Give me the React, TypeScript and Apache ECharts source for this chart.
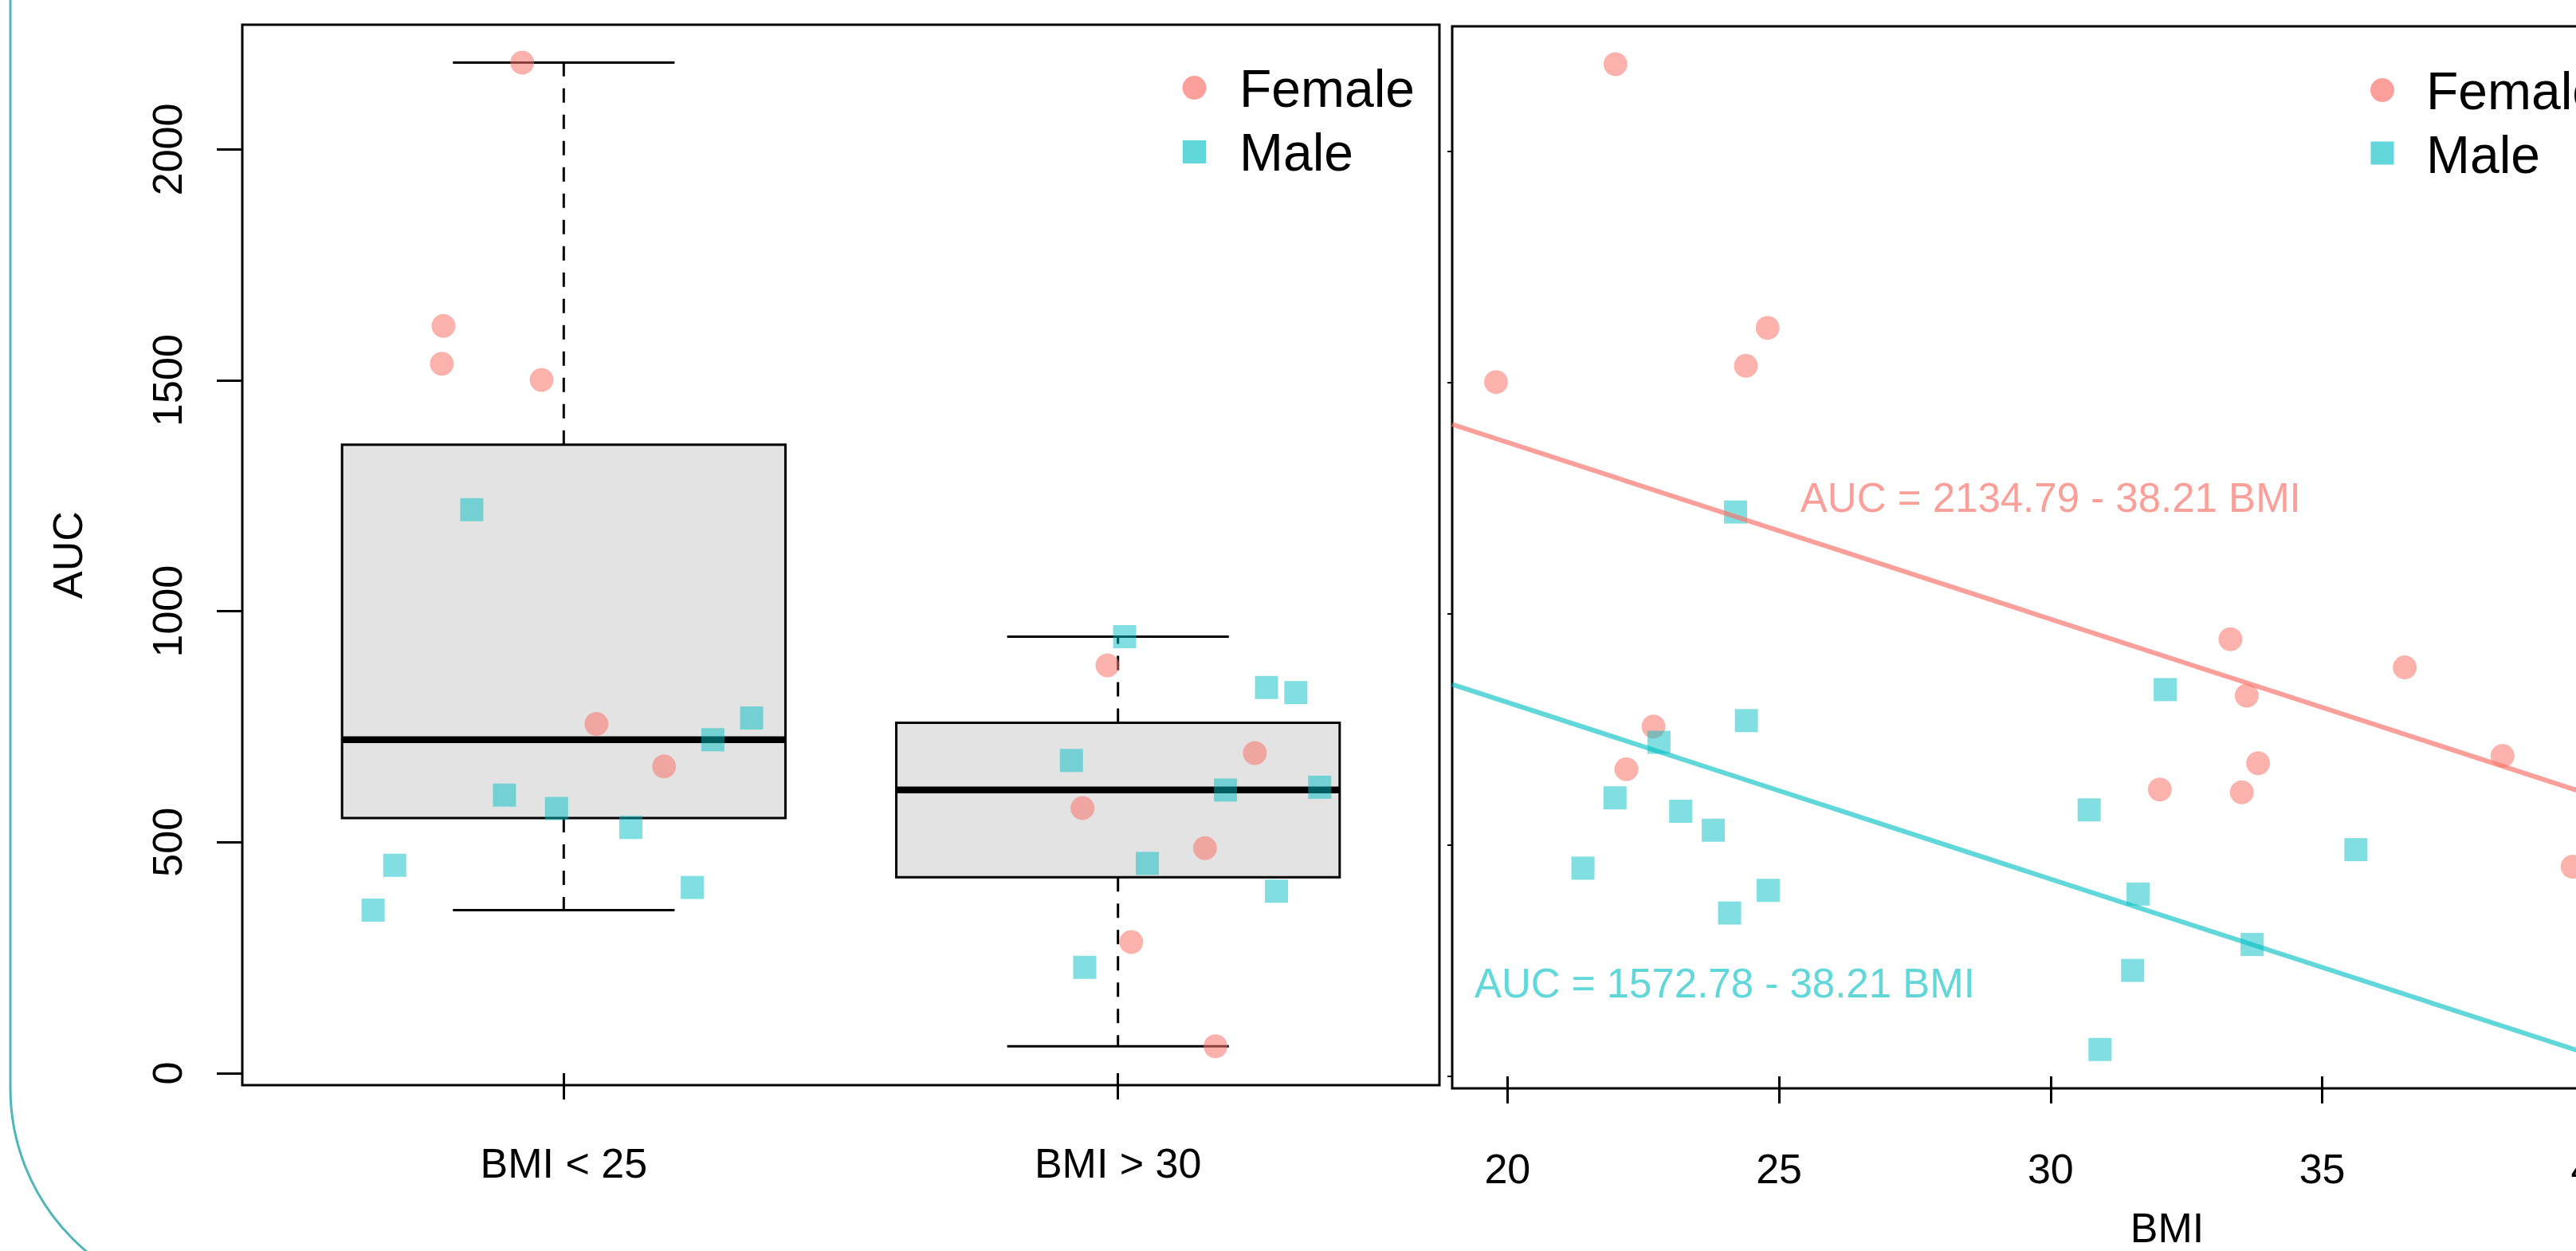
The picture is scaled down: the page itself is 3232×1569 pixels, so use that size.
import React, { useEffect, useRef } from "react";
import * as echarts from "echarts";

// ---------- data ----------
const groupLabels = ["BMI < 25", "BMI > 30"];
const aucTicks = [0, 500, 1000, 1500, 2000];
const bmiTicks = [20, 25, 30, 35, 40];

// left panel: [jittered group position, AUC]
const boxFemale: number[][] = [
  [0.925, 2188], [0.783, 1618], [0.78, 1536], [0.96, 1501], [1.059, 756], [1.181, 664],
  [1.981, 883], [1.936, 574], [2.247, 693], [2.157, 487], [2.024, 284], [2.176, 58],
];
const boxMale: number[][] = [
  [0.834, 1220], [0.893, 602], [0.987, 573], [1.121, 532], [1.269, 722], [1.339, 769],
  [1.232, 402], [0.695, 450], [0.656, 353],
  [2.012, 945], [1.916, 677], [2.268, 835], [2.321, 824], [2.194, 613], [2.364, 619],
  [2.053, 454], [2.286, 394], [1.94, 229],
];

// right panel: [BMI, AUC]
const bmiFemale: number[][] = [
  [21.99, 2188], [19.79, 1501], [24.39, 1536], [24.79, 1618], [22.69, 756], [22.19, 664],
  [33.31, 945], [33.61, 823], [33.82, 677], [32.01, 620], [33.52, 614], [36.52, 884],
  [38.32, 693], [39.61, 453],
];
const bmiMale: number[][] = [
  [24.2, 1220], [24.4, 769], [22.79, 722], [21.98, 602], [23.19, 573], [23.79, 532],
  [21.39, 450], [24.8, 402], [24.09, 353], [30.71, 576], [32.11, 836], [31.61, 394],
  [31.51, 229], [30.91, 58], [33.71, 285], [35.62, 490],
];

const fitFemale = { intercept: 2134.79, slope: -38.21, labelAt: [30, 1250] };
const fitMale = { intercept: 1572.78, slope: -38.21, labelAt: [24, 200] };

// ---------- helpers ----------
function fivenum(vals: number[]) {
  const x = [...vals].sort((a, b) => a - b);
  const n = x.length;
  const n4 = Math.floor((n + 3) / 2) / 2;
  const d = [1, n4, (n + 1) / 2, n + 1 - n4, n];
  return d.map((di) => 0.5 * (x[Math.floor(di) - 1] + x[Math.ceil(di) - 1]));
}
function boxStats(vals: number[]) {
  const s = [...vals].sort((a, b) => a - b);
  const [, h1, md, h2] = fivenum(s);
  const iqr = h2 - h1;
  const lo = s.filter((v) => v >= h1 - 1.5 * iqr)[0];
  const hiArr = s.filter((v) => v <= h2 + 1.5 * iqr);
  const hi = hiArr[hiArr.length - 1];
  return [lo, h1, md, h2, hi];
}

const FEMALE = "rgba(248,118,109,0.7)";
const MALE = "rgba(0,191,196,0.62)";
const FONT = "Liberation Sans";

const X1_MIN = 0.42, X1_MAX = 2.58;
const Y_MIN = -26, Y_MAX = 2270;
const X2_MIN = 18.983, X2_MAX = 45.395;

export default function App() {
  const ref = useRef<HTMLDivElement>(null);
  useEffect(() => {
    document.body.style.margin = "0";
    if (!ref.current) return;
    const chart = echarts.init(ref.current, undefined, { renderer: "svg" });

    const allBox = [...boxFemale, ...boxMale];
    const boxData = groupLabels.map((_, i) => {
      const g = i + 1;
      const vals = allBox.filter((p) => Math.round(p[0]) === g).map((p) => p[1]);
      return [g, ...boxStats(vals)];
    });

    const fitLine = (f: { intercept: number; slope: number }) => [
      [X2_MIN, f.intercept + f.slope * X2_MIN],
      [X2_MAX, f.intercept + f.slope * X2_MAX],
    ];

    const axisText = { fontSize: 52, color: "#000", fontFamily: FONT };
    const tickStyle = { color: "#000", width: 3 };

    const option: any = {
      animation: false,
      backgroundColor: "#fff",
      textStyle: { fontFamily: FONT },
      grid: [
        { left: 304, top: 31, width: 1502, height: 1330, show: true, borderColor: "#000", borderWidth: 3, backgroundColor: "transparent", containLabel: false, outerBoundsMode: "none" },
        { left: 1822, top: 33, width: 1800, height: 1332, show: true, borderColor: "#000", borderWidth: 3, backgroundColor: "transparent", containLabel: false, outerBoundsMode: "none" },
      ],
      xAxis: [
        {
          type: "value", gridIndex: 0, min: X1_MIN, max: X1_MAX,
          axisLine: { show: false }, splitLine: { show: false },
          axisTick: { show: true, customValues: [1, 2], length: 33, lineStyle: tickStyle },
          axisLabel: { show: true, customValues: [1, 2], margin: 72, ...axisText, formatter: (v: number) => groupLabels[Math.round(v) - 1] },
        },
        {
          type: "value", gridIndex: 1, min: X2_MIN, max: X2_MAX,
          axisLine: { show: false }, splitLine: { show: false },
          axisTick: { show: true, customValues: bmiTicks, length: 34, lineStyle: tickStyle },
          axisLabel: { show: true, customValues: bmiTicks, margin: 75, ...axisText, formatter: (v: number) => String(v) },
        },
      ],
      yAxis: [
        {
          type: "value", gridIndex: 0, min: Y_MIN, max: Y_MAX,
          axisLine: { show: false }, splitLine: { show: false },
          axisTick: { show: true, customValues: aucTicks, length: 32, lineStyle: tickStyle },
          axisLabel: { show: true, customValues: aucTicks, rotate: 90, margin: 68, ...axisText, formatter: (v: number) => String(v) },
        },
        {
          type: "value", gridIndex: 1, min: Y_MIN, max: Y_MAX,
          axisLine: { show: false }, splitLine: { show: false },
          axisTick: { show: true, customValues: aucTicks, length: 6, lineStyle: { color: "#000", width: 2 } },
          axisLabel: { show: false },
        },
      ],
      series: [
        {
          type: "custom", name: "box", xAxisIndex: 0, yAxisIndex: 0,
          encode: { x: 0, y: [1, 2, 3, 4, 5] },
          data: boxData,
          renderItem: (_params: any, api: any) => {
            const g = api.value(0);
            const lo = api.value(1), q1 = api.value(2), md = api.value(3), q3 = api.value(4), hi = api.value(5);
            const cx = api.coord([g, md])[0];
            const L = api.coord([g - 0.4, md])[0];
            const R = api.coord([g + 0.4, md])[0];
            const cL = api.coord([g - 0.2, md])[0];
            const cR = api.coord([g + 0.2, md])[0];
            const yLo = api.coord([g, lo])[1];
            const yQ1 = api.coord([g, q1])[1];
            const yMd = api.coord([g, md])[1];
            const yQ3 = api.coord([g, q3])[1];
            const yHi = api.coord([g, hi])[1];
            const solid = { stroke: "#000", lineWidth: 3 };
            const dashed = { stroke: "#000", lineWidth: 3, lineDash: [18, 15] };
            return {
              type: "group",
              children: [
                { type: "line", shape: { x1: cx, y1: yQ3, x2: cx, y2: yHi }, style: dashed },
                { type: "line", shape: { x1: cx, y1: yQ1, x2: cx, y2: yLo }, style: dashed },
                { type: "line", shape: { x1: cL, y1: yHi, x2: cR, y2: yHi }, style: solid },
                { type: "line", shape: { x1: cL, y1: yLo, x2: cR, y2: yLo }, style: solid },
                { type: "rect", shape: { x: L, y: yQ3, width: R - L, height: yQ1 - yQ3 }, style: { fill: "#E3E3E3", stroke: "#000", lineWidth: 3 } },
                { type: "line", shape: { x1: L, y1: yMd, x2: R, y2: yMd }, style: { stroke: "#000", lineWidth: 8.5 } },
              ],
            };
          },
          z: 1,
        },
        {
          type: "scatter", name: "Female", xAxisIndex: 0, yAxisIndex: 0, data: boxFemale,
          symbol: "circle", symbolSize: 30, itemStyle: { color: FEMALE }, z: 3,
        },
        {
          type: "scatter", name: "Male", xAxisIndex: 0, yAxisIndex: 0, data: boxMale,
          symbol: "rect", symbolSize: 29, itemStyle: { color: MALE }, z: 3,
        },
        {
          type: "scatter", name: "Female", xAxisIndex: 1, yAxisIndex: 1, data: bmiFemale,
          symbol: "circle", symbolSize: 30, itemStyle: { color: FEMALE }, z: 3, clip: false,
        },
        {
          type: "scatter", name: "Male", xAxisIndex: 1, yAxisIndex: 1, data: bmiMale,
          symbol: "rect", symbolSize: 29, itemStyle: { color: MALE }, z: 3, clip: false,
        },
        {
          type: "line", name: "Female fit", xAxisIndex: 1, yAxisIndex: 1, data: fitLine(fitFemale),
          showSymbol: false, symbol: "none", lineStyle: { color: FEMALE, width: 6 }, z: 4,
          markPoint: {
            symbol: "circle", symbolSize: 0, silent: true,
            label: { show: true, position: "inside", color: FEMALE, fontSize: 51, fontFamily: FONT, formatter: () => "AUC = 2134.79 - 38.21 BMI" },
            data: [{ coord: fitFemale.labelAt }],
          },
        },
        {
          type: "line", name: "Male fit", xAxisIndex: 1, yAxisIndex: 1, data: fitLine(fitMale),
          showSymbol: false, symbol: "none", lineStyle: { color: MALE, width: 6 }, z: 4,
          markPoint: {
            symbol: "circle", symbolSize: 0, silent: true,
            label: { show: true, position: "inside", color: MALE, fontSize: 51, fontFamily: FONT, formatter: () => "AUC = 1572.78 - 38.21 BMI" },
            data: [{ coord: fitMale.labelAt }],
          },
        },
      ],
      graphic: [
        {
          type: "rect", silent: true, z: -10,
          shape: { x: 13, y: -700, width: 4000, height: 2332, r: 267 },
          style: { fill: "none", stroke: "#4FB5B7", lineWidth: 3 },
        },
        {
          type: "text", x: 85, y: 696, rotation: Math.PI / 2,
          style: { text: "AUC", fill: "#000", fontSize: 52, fontFamily: FONT, align: "center", verticalAlign: "middle" },
        },
        {
          type: "text", x: 2719, y: 1540,
          style: { text: "BMI", fill: "#000", fontSize: 52, fontFamily: FONT, align: "center", verticalAlign: "middle" },
        },
        // legend left panel
        { type: "circle", shape: { cx: 1498.5, cy: 110, r: 15 }, style: { fill: FEMALE } },
        { type: "rect", shape: { x: 1484, y: 176, width: 29, height: 29 }, style: { fill: MALE } },
        { type: "text", x: 1555, y: 111, style: { text: "Female", fill: "#000", fontSize: 66, fontFamily: FONT, align: "left", verticalAlign: "middle" } },
        { type: "text", x: 1555, y: 191, style: { text: "Male", fill: "#000", fontSize: 66, fontFamily: FONT, align: "left", verticalAlign: "middle" } },
        // legend right panel
        { type: "circle", shape: { cx: 2989, cy: 113, r: 15 }, style: { fill: FEMALE } },
        { type: "rect", shape: { x: 2974.5, y: 177.5, width: 29, height: 29 }, style: { fill: MALE } },
        { type: "text", x: 3044, y: 114, style: { text: "Female", fill: "#000", fontSize: 66, fontFamily: FONT, align: "left", verticalAlign: "middle" } },
        { type: "text", x: 3044, y: 194, style: { text: "Male", fill: "#000", fontSize: 66, fontFamily: FONT, align: "left", verticalAlign: "middle" } },
      ],
    };

    chart.setOption(option);
    return () => chart.dispose();
  }, []);

  return <div ref={ref} style={{ width: 3232, height: 1569 }} />;
}
